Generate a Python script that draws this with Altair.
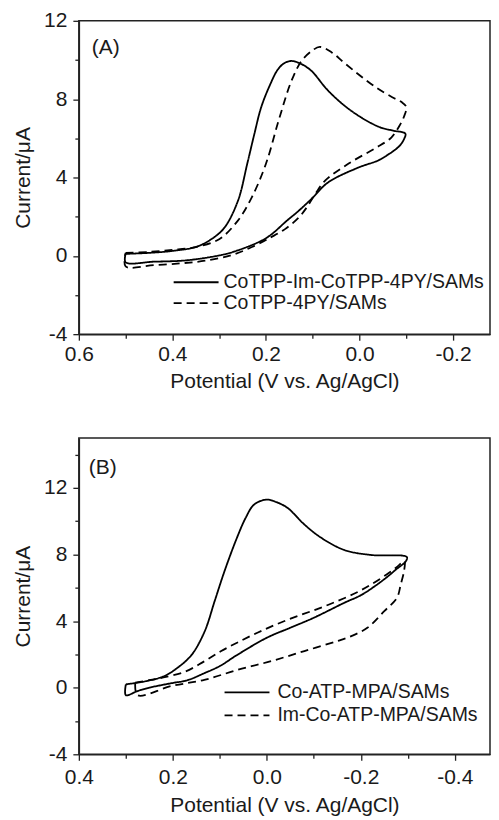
import altair as alt
import pandas as pd

# ---------------- data ----------------
# Panel A : CoTPP-Im-CoTPP-4PY/SAMs (solid)
a1_E = [0.50, 0.45, 0.40, 0.35, 0.32, 0.29, 0.26, 0.24, 0.225, 0.21, 0.19, 0.175, 0.16, 0.145,
        0.125, 0.103, 0.067, 0.018, -0.04, -0.07, -0.098,
        -0.096, -0.085, -0.06, -0.04, 0.003, 0.067, 0.103, 0.13, 0.155, 0.20, 0.27, 0.30, 0.37,
        0.44, 0.50, 0.50]
a1_I = [0.10, 0.15, 0.25, 0.45, 0.80, 1.40, 2.80, 4.70, 6.20, 7.60, 8.80, 9.50, 9.85, 9.95,
        9.80, 9.45, 8.43, 7.41, 6.60, 6.40, 6.24,
        6.00, 5.60, 5.15, 4.87, 4.50, 3.75, 2.90, 2.30, 1.80, 0.90, 0.20, 0.02, -0.23,
        -0.30, -0.33, 0.10]
# Panel A : CoTPP-4PY/SAMs (dashed)
a2_E = [0.50, 0.45, 0.40, 0.35, 0.30, 0.26, 0.23, 0.20, 0.173, 0.146, 0.124, 0.10, 0.085, 0.06,
        0.03, -0.035, -0.07, -0.09, -0.10,
        -0.095, -0.088, -0.068, -0.034, 0.024, 0.073, 0.094, 0.112, 0.13, 0.16, 0.19, 0.23,
        0.274, 0.33, 0.38, 0.44, 0.50, 0.50]
a2_I = [0.15, 0.20, 0.30, 0.45, 0.85, 1.80, 3.00, 4.70, 6.90, 8.90, 9.95, 10.50, 10.67, 10.40,
        9.80, 8.60, 8.10, 7.85, 7.60,
        7.10, 6.75, 6.04, 5.50, 4.70, 3.85, 3.18, 2.50, 1.95, 1.35, 0.94, 0.45,
        0.03, -0.25, -0.38, -0.48, -0.54, 0.15]

# Panel B : Co-ATP-MPA/SAMs (solid)
b1_E = [0.30, 0.254, 0.218, 0.19, 0.16, 0.132, 0.111, 0.09, 0.065, 0.045, 0.027, 0.0, -0.02,
        -0.044, -0.08, -0.116, -0.165, -0.222, -0.298,
        -0.296, -0.275, -0.256, -0.23, -0.20, -0.165, -0.10, -0.05, 0.0, 0.063, 0.10, 0.133,
        0.169, 0.203, 0.25, 0.275, 0.30, 0.30]
b1_I = [0.20, 0.41, 0.70, 1.20, 1.97, 3.40, 5.20, 7.00, 8.90, 10.20, 11.00, 11.30, 11.15,
        10.80, 9.80, 9.00, 8.27, 7.97, 7.85,
        7.60, 7.10, 6.65, 6.10, 5.55, 5.10, 4.20, 3.60, 3.00, 1.97, 1.30, 0.87,
        0.45, 0.27, 0.00, -0.20, -0.45, 0.20]
# Panel B : Im-Co-ATP-MPA/SAMs (dashed)
b2_E = [0.28, 0.25, 0.22, 0.175, 0.135, 0.097, 0.06, 0.02, -0.02, -0.065, -0.11, -0.15, -0.19,
        -0.222, -0.255, -0.277, -0.293,
        -0.292, -0.285, -0.277, -0.25, -0.214, -0.18, -0.15, -0.08, -0.01, 0.062, 0.133,
        0.203, 0.275, 0.28]
b2_I = [0.30, 0.45, 0.62, 0.95, 1.55, 2.20, 2.75, 3.30, 3.80, 4.30, 4.75, 5.20, 5.70,
        6.20, 6.80, 7.25, 7.60,
        7.00, 6.20, 5.40, 4.60, 3.60, 3.10, 2.80, 2.20, 1.60, 1.07, 0.47,
        0.10, -0.45, 0.30]

names_a = ["CoTPP-Im-CoTPP-4PY/SAMs", "CoTPP-4PY/SAMs"]
names_b = ["Co-ATP-MPA/SAMs", "Im-Co-ATP-MPA/SAMs"]

xvals_a = [0.6, 0.5, 0.4, 0.3, 0.2, 0.1, 0.0, -0.1, -0.2]
xvals_b = [0.4, 0.3, 0.2, 0.1, 0.0, -0.1, -0.2, -0.3, -0.4]
yvals_a = [-4, -2, 0, 2, 4, 6, 8, 10, 12]
yvals_b = [-4, -2, 0, 2, 4, 6, 8, 10, 12, 14]

X_TITLE = "Potential (V vs. Ag/AgCl)"
Y_TITLE = "Current/\u03bcA"

FONT = "Liberation Sans"
INK = "#1a1a1a"


def frame(series):
    rows = []
    for name, E, I in series:
        for k, (e, i) in enumerate(zip(E, I)):
            rows.append({"E": e, "I": i, "series": name, "idx": k})
    return pd.DataFrame(rows)


def panel(df, names, xdom, xvals, ydom, yvals, width, height, tag, tagpos, leg, xpad):
    lab_pad, tit_pad = xpad
    xaxis = alt.Axis(
        values=xvals, title=X_TITLE, grid=False,
        labelExpr="abs(round(datum.value*10)) % 2 == 0 ? "
                  "(datum.value < -0.001 ? '-' : '') + format(abs(datum.value), '.1f') : ''",
        tickSize={"condition": {"test": "abs(round(datum.value*10)) % 2 == 0", "value": 6}, "value": 4},
        labelPadding=lab_pad, titlePadding=tit_pad, labelFlush=False,
    )
    yaxis = alt.Axis(
        values=yvals, title=Y_TITLE, grid=False,
        labelExpr="abs(datum.value) % 4 == 0 ? "
                  "(datum.value < 0 ? '-' : '') + format(abs(datum.value), 'd') : ''",
        tickSize={"condition": {"test": "abs(datum.value) % 4 == 0", "value": 6}, "value": 4},
        labelPadding=6, titlePadding=10, labelFlush=False,
    )
    lines = alt.Chart(df).mark_line(
        color="black", strokeWidth=1.8, interpolate="catmull-rom", clip=True
    ).encode(
        x=alt.X("E:Q", scale=alt.Scale(domain=xdom, reverse=True, nice=False, zero=False), axis=xaxis),
        y=alt.Y("I:Q", scale=alt.Scale(domain=ydom, nice=False, zero=False), axis=yaxis),
        strokeDash=alt.StrokeDash("series:N", scale=alt.Scale(domain=names, range=[[1, 0], [8, 5]]),
                                  legend=None),
        detail="series:N",
        order="idx:Q",
    )
    one = pd.DataFrame({"k": [0]})
    tag_t = alt.Chart(one).mark_text(align="left", baseline="middle", fontSize=21, font=FONT,
                                     color=INK).encode(
        x=alt.value(tagpos[0]), y=alt.value(tagpos[1]), text=alt.value(tag))
    x0, x1, xt, y0, y1 = leg
    r1 = alt.Chart(one).mark_rule(color="black", strokeWidth=1.8).encode(
        x=alt.value(x0), x2=alt.value(x1), y=alt.value(y0))
    r2 = alt.Chart(one).mark_rule(color="black", strokeWidth=1.8, strokeDash=[8, 5]).encode(
        x=alt.value(x0), x2=alt.value(x1), y=alt.value(y1))
    t1 = alt.Chart(one).mark_text(align="left", baseline="middle", fontSize=19.5, font=FONT,
                                  color=INK).encode(
        x=alt.value(xt), y=alt.value(y0), text=alt.value(names[0]))
    t2 = alt.Chart(one).mark_text(align="left", baseline="middle", fontSize=19.5, font=FONT,
                                  color=INK).encode(
        x=alt.value(xt), y=alt.value(y1), text=alt.value(names[1]))
    return alt.layer(lines, tag_t, r1, r2, t1, t2).properties(width=width, height=height)


df_a = frame([(names_a[0], a1_E, a1_I), (names_a[1], a2_E, a2_I)])
df_b = frame([(names_b[0], b1_E, b1_I), (names_b[1], b2_E, b2_I)])

pa = panel(df_a, names_a, [-0.279, 0.6], xvals_a, [-4, 12], yvals_a, 412, 314, "(A)", (13, 27),
           (95, 140, 145, 262, 283), (3, 6))
pb = panel(df_b, names_b, [-0.475, 0.4], xvals_b, [-4, 15], yvals_b, 412, 317, "(B)", (10, 30),
           (146, 191, 199, 255, 278), (6, 7))

chart = alt.vconcat(pa, pb, spacing=45).properties(
    padding={"left": 3, "top": 0, "right": 0, "bottom": 0}
).configure_view(
    stroke="#222", strokeWidth=1.5
).configure_axis(
    labelFont=FONT, titleFont=FONT, labelFontSize=21, titleFontSize=21,
    titleFontWeight="normal", labelColor=INK, titleColor=INK,
    domainColor="#222", domainWidth=1.5, tickColor="#222", tickWidth=1.3,
)

chart.save("out.html", embed_options={"renderer": "svg", "actions": False})
